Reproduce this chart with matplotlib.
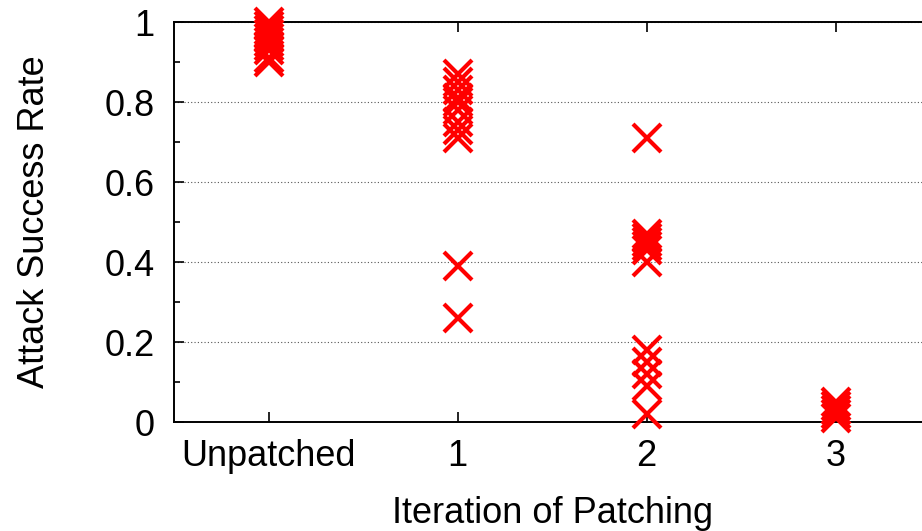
import matplotlib.pyplot as plt
from matplotlib.ticker import MultipleLocator

plt.rcParams["font.family"] = ["Liberation Sans", "DejaVu Sans"]

# categories on the x axis
iterations = ["Unpatched", "1", "2", "3"]

# attack success rate per run
rate_unpatched = [1.00, 0.99, 0.98, 0.97, 0.96, 0.95, 0.94, 0.93, 0.91, 0.90]
rate_iter1 = [0.87, 0.85, 0.83, 0.81, 0.80, 0.78, 0.75, 0.73, 0.71, 0.39, 0.26]
rate_iter2 = [0.71, 0.47, 0.46, 0.45, 0.44, 0.43, 0.40, 0.18, 0.15, 0.12, 0.09, 0.02]
rate_iter3 = [0.05, 0.04, 0.03, 0.02, 0.01]

all_rates = [rate_unpatched, rate_iter1, rate_iter2, rate_iter3]

fig = plt.figure(figsize=(9.22, 5.31), dpi=100)
ax = fig.add_axes([174 / 922, 1 - 422 / 531, 756 / 922, 400 / 531])

for i, rates in enumerate(all_rates):
    ax.plot([i] * len(rates), rates, linestyle="none", marker="x",
            color="red", markersize=20, markeredgewidth=3, clip_on=False, zorder=3)

ax.set_xlim(-0.5, 3.5)
ax.set_ylim(0, 1)
ax.set_xticks(range(len(iterations)))
ax.set_xticklabels(iterations)
ax.set_yticks([0, 0.2, 0.4, 0.6, 0.8, 1])
ax.set_yticklabels(["0", "0.2", "0.4", "0.6", "0.8", "1"])
ax.yaxis.set_minor_locator(MultipleLocator(0.1))

ax.tick_params(axis="both", which="both", direction="in", labelsize=26, width=1.2)
ax.tick_params(axis="x", which="major", top=True, length=7, pad=12)
ax.tick_params(axis="y", which="major", length=7, pad=14)
ax.tick_params(axis="y", which="minor", length=4)

ax.yaxis.grid(True, which="major", linestyle=(0, (1, 2)), color="#555555", linewidth=0.8)
ax.set_axisbelow(True)
for s in ax.spines.values():
    s.set_linewidth(1.4)

ax.set_xlabel("Iteration of Patching", fontsize=26, labelpad=16)
ax.set_ylabel("Attack Success Rate", fontsize=26, labelpad=38)

fig.savefig("out.png", dpi=100)
